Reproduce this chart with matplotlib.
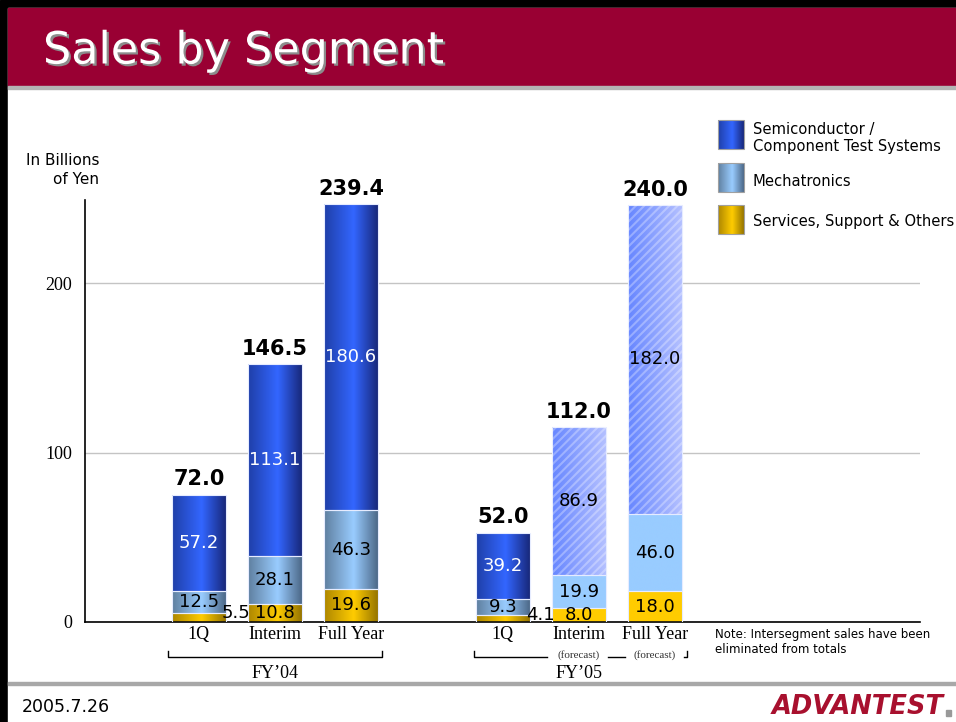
import numpy as np
import matplotlib
matplotlib.use('Agg')
import matplotlib.pyplot as plt
import matplotlib.patheffects as pe
from matplotlib.colors import LinearSegmentedColormap
from matplotlib.patches import Rectangle

# data (billions of yen)
periods = ['1Q', 'Interim', 'Full Year', '1Q', 'Interim', 'Full Year']
years = ['FY\u201904', 'FY\u201905']
semi = [57.2, 113.1, 180.6, 39.2, 86.9, 182.0]
mecha = [12.5, 28.1, 46.3, 9.3, 19.9, 46.0]
service = [5.5, 10.8, 19.6, 4.1, 8.0, 18.0]
totals = [72.0, 146.5, 239.4, 52.0, 112.0, 240.0]
forecast = [False, False, False, False, True, True]
segments = ['Semiconductor /\nComponent Test Systems', 'Mechatronics', 'Services, Support & Others']

W, H = 956, 722
serif = 'Liberation Serif'


def cmap(*cols):
    return LinearSegmentedColormap.from_list('', cols)


semi_cm = cmap((0, '#1f3fa8'), (0.55, '#3366ff'), (1, '#18287a'))
mecha_cm = cmap((0, '#5f7f9f'), (0.55, '#99ccff'), (1, '#4c6888'))
serv_cm = cmap((0, '#ad8600'), (0.55, '#ffcc00'), (1, '#957400'))
semi_fc = cmap((0, '#6686ff'), (1, '#b4c0ff'))
mecha_fc = cmap('#99ccff', '#99ccff')
serv_fc = cmap('#ffcc00', '#ffcc00')
grad = np.linspace(0, 1, 256).reshape(1, -1)

fig = plt.figure(figsize=(W / 100, H / 100), dpi=100)

# slide frame
bg = fig.add_axes([0, 0, 1, 1], zorder=-1)
bg.axis('off')
bg.add_patch(Rectangle((0, 0), W, H, color='black'))
bg.add_patch(Rectangle((8, 8), W, H, color='white'))
bg.add_patch(Rectangle((8, 8), W, 78, color='#990033'))
bg.add_patch(Rectangle((8, 86), W, 3, color='#b4b4b4'))
bg.add_patch(Rectangle((8, 682), W, 3, color='#a8a8a8'))
bg.add_patch(Rectangle((946, 710), 5, 6, color='#999999'))

# legend swatches
for top, cm in zip([120, 163, 205], [semi_cm, mecha_cm, serv_cm]):
    bg.imshow(grad, cmap=cm, extent=[718, 744, top + 29, top], aspect='auto', interpolation='bicubic', zorder=3)
    bg.add_patch(Rectangle((718, top), 26, 29, fill=False, ec='#a0a0a0', lw=0.8, zorder=4))
bg.set_xlim(0, W)
bg.set_ylim(H, 0)

fig.text(753 / W, 1 - 138 / H, segments[0], size=10.6, va='center', linespacing=1.1)
fig.text(753 / W, 1 - 181 / H, segments[1], size=10.6, va='center')
fig.text(753 / W, 1 - 221 / H, segments[2], size=10.6, va='center')

fig.text(43 / W, 1 - 51 / H, 'Sales by Segment', size=32, color='white', va='center',
         path_effects=[pe.SimplePatchShadow(offset=(1.6, -1.6), shadow_rgbFace='#8c8c8c', alpha=1), pe.Normal()])
fig.text(99 / W, 1 - 170 / H, 'In Billions\nof Yen', size=11, ha='right', va='center',
         multialignment='right', linespacing=1.3)
fig.text(715 / W, 1 - 642 / H, 'Note: Intersegment sales have been\neliminated from totals', size=8.5, va='center')
fig.text(22 / W, 1 - 707 / H, '2005.7.26', size=12.5, va='center')
fig.text(944 / W, 1 - 707 / H, 'ADVANTEST', size=18.5, weight='heavy', style='italic', color='#a8102e',
         ha='right', va='center')

# chart
ax = fig.add_axes([85 / W, (H - 622) / H, (920 - 85) / W, (622 - 200) / H])
ax.set_facecolor('none')
pos = np.arange(len(periods)) + np.repeat([0, 1], 3)
bw = 0.71

bottom = np.zeros(len(periods))
for vals, cm, cmf in [(service, serv_cm, serv_fc), (mecha, mecha_cm, mecha_fc), (semi, semi_cm, semi_fc)]:
    bars = ax.bar(pos, vals, bw, bottom=bottom, facecolor='none', edgecolor='#e6ecff', lw=0.8, zorder=3)
    for b, f in zip(bars, forecast):
        x, y, w, h = b.get_x(), b.get_y(), b.get_width(), b.get_height()
        im = ax.imshow(grad, cmap=cmf if f else cm, extent=[x, x + w, y, y + h], aspect='auto',
                       interpolation='bicubic', zorder=2)
        im.set_clip_path(b)
    bottom = bottom + np.array(vals)

# stripes on forecast semiconductor bars
fpos = [p for p, f in zip(pos, forecast) if f]
fsemi = [v for v, f in zip(semi, forecast) if f]
fbot = [b - v for b, v, f in zip(bottom, semi, forecast) if f]
plt.rcParams['hatch.linewidth'] = 1.5
ax.bar(fpos, fsemi, bw, bottom=fbot, facecolor='none', edgecolor=(1, 1, 1, 0.3), hatch='////', lw=0, zorder=3)

# value labels
for i, p in enumerate(pos):
    s, m, v = service[i], mecha[i], semi[i]
    if s < 7:
        ax.text(p + 0.49, s, f'{s:.1f}', ha='center', va='center', size=13, zorder=5)
    else:
        ax.text(p, s / 2, f'{s:.1f}', ha='center', va='center', size=13, zorder=5)
    ax.text(p, s + m / 2, f'{m:.1f}', ha='center', va='center', size=13, zorder=5)
    ax.text(p, s + m + v / 2, f'{v:.1f}', ha='center', va='center', size=13, zorder=5,
            color='black' if forecast[i] else 'white')
    ax.annotate(f'{totals[i]:.1f}', (p, bottom[i]), xytext=(0, 4), textcoords='offset points',
                ha='center', va='bottom', size=15, weight='bold')

ax.set_xlim(-1.5, 9.49)
ax.set_ylim(0, 249)
ax.set_yticks([0, 100, 200])
ax.set_xticks(pos)
ax.set_xticklabels(periods)
for lab in ax.get_xticklabels() + ax.get_yticklabels():
    lab.set_family(serif)
    lab.set_size(13)
ax.tick_params(length=0)
ax.tick_params(axis='x', pad=3)
ax.tick_params(axis='y', pad=9)
ax.yaxis.grid(True, color='#c4c4c4', lw=1)
ax.set_axisbelow(True)
for s in ['top', 'right']:
    ax.spines[s].set_visible(False)
ax.spines['left'].set_linewidth(1.2)
ax.spines['bottom'].set_linewidth(1.2)

# year brackets under the ticks
tr = ax.get_xaxis_transform()
yb, tk = -0.083, 0.014
ax.plot([pos[0] - 0.41, pos[0] - 0.41, pos[2] + 0.41, pos[2] + 0.41], [yb + tk, yb, yb, yb + tk],
        transform=tr, clip_on=False, color='black', lw=1)
ax.plot([pos[3] - 0.38, pos[3] - 0.38, pos[4] - 0.42], [yb + tk, yb, yb], transform=tr, clip_on=False,
        color='black', lw=1)
ax.plot([pos[4] + 0.39, pos[5] - 0.39], [yb, yb], transform=tr, clip_on=False, color='black', lw=1)
ax.plot([pos[5] + 0.38, pos[5] + 0.42, pos[5] + 0.42], [yb, yb, yb + tk], transform=tr, clip_on=False,
        color='black', lw=1)
for p in fpos:
    ax.text(p, yb + 0.004, '(forecast)', transform=tr, ha='center', va='center', family=serif, size=8,
            color='#333333')
ax.text(pos[:3].mean(), -0.121, years[0], transform=tr, ha='center', va='center', family=serif, size=13)
ax.text(pos[3:].mean(), -0.121, years[1], transform=tr, ha='center', va='center', family=serif, size=13)

fig.savefig('out.png', dpi=100)
